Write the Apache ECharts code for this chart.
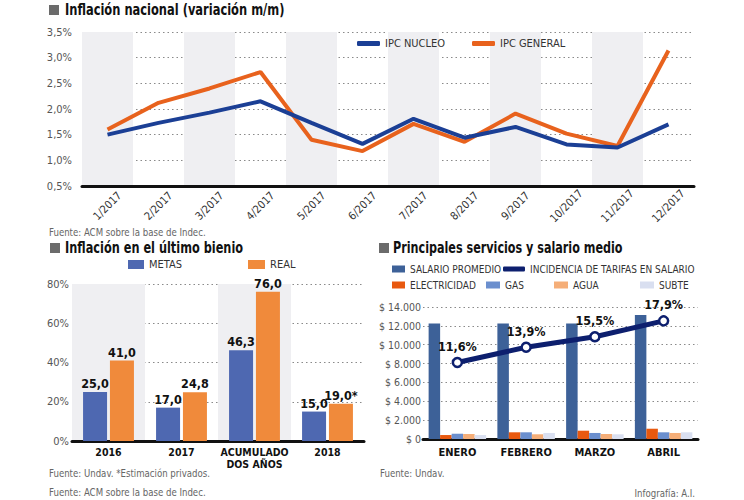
<!DOCTYPE html>
<html>
<head>
<meta charset="utf-8">
<script src="https://cdn.jsdelivr.net/npm/echarts@6/dist/echarts.min.js"></script>
<style>
html,body{margin:0;padding:0;background:#fff;}
#c{width:744px;height:500px;}
</style>
</head>
<body>
<div id="c"></div>
<script>
// ---- Data ----
const ipcMonths = ['1/2017','2/2017','3/2017','4/2017','5/2017','6/2017','7/2017','8/2017','9/2017','10/2017','11/2017','12/2017'];
const ipcNucleo = [1.5, 1.73, 1.93, 2.15, 1.73, 1.32, 1.81, 1.44, 1.65, 1.31, 1.25, 1.70];
const ipcGeneral = [1.6, 2.12, 2.4, 2.72, 1.4, 1.18, 1.71, 1.36, 1.91, 1.52, 1.28, 3.14];
const ipcTicks = [0.5, 3.5, 0.5]; // min, max, interval

const bienioCats = ['2016', '2017', 'ACUMULADO\nDOS AÑOS', '2018'];
const metas = [25.0, 17.0, 46.3, 15.0];
const real = [41.0, 24.8, 76.0, 19.0];
const realNotes = ['', '', '', '*'];

const servMonths = ['ENERO', 'FEBRERO', 'MARZO', 'ABRIL'];
const salario = [12250, 12250, 12250, 13150];
const electricidad = [420, 710, 880, 1090];
const gas = [560, 710, 640, 710];
const agua = [530, 500, 530, 640];
const subte = [420, 640, 500, 710];
const incidencia = [11.6, 13.9, 15.5, 17.9];

// ---- Styles ----
const FONT = "'DejaVu Sans Condensed','Liberation Sans',sans-serif";
const BAND = ['#efeff2', 'rgba(255,255,255,0)'];
const dotted = {show: true, lineStyle: {color: '#8a8a8a', type: [1.5, 3], width: 1.2}};
const comma = (v, d) => v.toFixed(d).replace('.', ',');
const thousands = v => String(v).replace(/\B(?=(\d{3})+(?!\d))/g, '.');

const chart = echarts.init(document.getElementById('c'), null, {renderer: 'svg'});

const legendText = {fontSize: 10, color: '#333', fontFamily: FONT};
function leg(name, left, top, w, h, icon, extra, fs) {
  const item = Object.assign({name: name, icon: icon}, extra || {});
  return {data: [item], left: left, top: top, itemWidth: w, itemHeight: h, padding: 0, itemGap: 0,
          textStyle: Object.assign({}, legendText, fs ? {fontSize: fs} : {}), selectedMode: false};
}
function txt(x, y, s, font, scale, align) {
  return {type: 'text', x: x, y: y, scaleX: scale,
          style: {x: 0, y: 0, text: s, font: font, fill: font.indexOf('bold') === 0 ? '#111' : '#666',
                  verticalAlign: 'middle', align: align || 'left'}};
}

const option = {
  animation: false,
  backgroundColor: '#fff',
  grid: [
    {left: 82, top: 32, width: 612, height: 154},
    {left: 72, top: 284, width: 292, height: 157},
    {left: 423, top: 307, width: 275, height: 132}
  ],
  xAxis: [
    {type: 'category', gridIndex: 0, data: ipcMonths, boundaryGap: true,
     axisLine: {lineStyle: {color: '#111', width: 3}}, axisTick: {show: false},
     splitArea: {show: true, areaStyle: {color: BAND}},
     axisLabel: {rotate: 45, align: 'center', margin: 20, fontSize: 11, color: '#333', fontFamily: FONT, interval: 0}},
    {type: 'category', gridIndex: 1, data: bienioCats, boundaryGap: true,
     axisLine: {lineStyle: {color: '#111', width: 3}}, axisTick: {show: false},
     splitArea: {show: true, areaStyle: {color: BAND}},
     axisLabel: {margin: 5, fontSize: 10.5, fontWeight: 'bold', color: '#111', fontFamily: FONT, lineHeight: 12, interval: 0}},
    {type: 'category', gridIndex: 2, data: servMonths, boundaryGap: true,
     axisLine: {lineStyle: {color: '#111', width: 3}}, axisTick: {show: false},
     axisLabel: {margin: 8, fontSize: 11, fontWeight: 'bold', color: '#111', fontFamily: FONT, interval: 0}}
  ],
  yAxis: [
    {type: 'value', gridIndex: 0, min: ipcTicks[0], max: ipcTicks[1], interval: ipcTicks[2],
     splitLine: dotted, axisLine: {show: false}, axisTick: {show: false},
     axisLabel: {formatter: v => comma(v, 1) + '%', fontSize: 11, color: '#555', fontFamily: FONT, margin: 10}},
    {type: 'value', gridIndex: 1, min: 0, max: 80, interval: 20,
     splitLine: dotted, axisLine: {show: false}, axisTick: {show: false},
     axisLabel: {formatter: v => v + '%', fontSize: 11, color: '#555', fontFamily: FONT, margin: 3}},
    {type: 'value', gridIndex: 2, min: 0, max: 14000, interval: 2000,
     splitLine: dotted, axisLine: {show: false}, axisTick: {show: false},
     axisLabel: {formatter: v => '$ ' + thousands(v), fontSize: 10.5, color: '#555', fontFamily: FONT, margin: 2}},
    {type: 'value', gridIndex: 2, min: 0, max: 20, show: false, splitLine: {show: false}}
  ],
  legend: [
    leg('IPC NUCLEO', 357, 38, 23, 5, 'roundRect', null, 11),
    leg('IPC GENERAL', 472, 38, 23, 5, 'roundRect', null, 11),
    leg('METAS', 128, 259, 16, 9, 'rect', null, 11),
    leg('REAL', 248, 259, 17, 9, 'rect', null, 11),
    leg('SALARIO PROMEDIO', 392, 264, 13, 7, 'rect'),
    leg('INCIDENCIA DE TARIFAS EN SALARIO', 503, 264, 22, 5, 'roundRect', {itemStyle: {color: '#0d1f6e', borderWidth: 0}}),
    leg('ELECTRICIDAD', 392, 280, 13, 7, 'rect'),
    leg('GAS', 486, 280, 14, 7, 'rect'),
    leg('AGUA', 554, 280, 14, 7, 'rect'),
    leg('SUBTE', 640, 280, 14, 7, 'rect')
  ],
  series: [
    {name: 'IPC GENERAL', type: 'line', xAxisIndex: 0, yAxisIndex: 0, data: ipcGeneral,
     showSymbol: false, symbol: 'none', color: '#e8621d', lineStyle: {width: 4, color: '#e8621d'}},
    {name: 'IPC NUCLEO', type: 'line', xAxisIndex: 0, yAxisIndex: 0, data: ipcNucleo,
     showSymbol: false, symbol: 'none', color: '#1b3f95', lineStyle: {width: 4, color: '#1b3f95'}},

    {name: 'METAS', type: 'bar', xAxisIndex: 1, yAxisIndex: 1, data: metas, color: '#4e68b1',
     barWidth: 24, barGap: '12%',
     label: {show: true, position: 'top', distance: 2, formatter: p => comma(p.value, 1),
             fontSize: 12.5, fontWeight: 'bold', color: '#111', fontFamily: FONT}},
    {name: 'REAL', type: 'bar', xAxisIndex: 1, yAxisIndex: 1, data: real, color: '#f08a3b',
     barWidth: 24, barGap: '12%',
     label: {show: true, position: 'top', distance: 2, formatter: p => comma(p.value, 1) + realNotes[p.dataIndex],
             fontSize: 12.5, fontWeight: 'bold', color: '#111', fontFamily: FONT}},

    {name: 'SALARIO PROMEDIO', type: 'bar', xAxisIndex: 2, yAxisIndex: 2, data: salario, color: '#3d6198', barWidth: 11.5, barGap: '0%'},
    {name: 'ELECTRICIDAD', type: 'bar', xAxisIndex: 2, yAxisIndex: 2, data: electricidad, color: '#e8590f', barWidth: 11.5, barGap: '0%'},
    {name: 'GAS', type: 'bar', xAxisIndex: 2, yAxisIndex: 2, data: gas, color: '#6b8fce', barWidth: 11.5, barGap: '0%'},
    {name: 'AGUA', type: 'bar', xAxisIndex: 2, yAxisIndex: 2, data: agua, color: '#f5ae78', barWidth: 11.5, barGap: '0%'},
    {name: 'SUBTE', type: 'bar', xAxisIndex: 2, yAxisIndex: 2, data: subte, color: '#d9dff0', barWidth: 11.5, barGap: '0%'},
    {name: 'INCIDENCIA DE TARIFAS EN SALARIO', type: 'line', xAxisIndex: 2, yAxisIndex: 3, data: incidencia,
     color: '#0d1f6e', lineStyle: {width: 5, color: '#0d1f6e'}, z: 5,
     symbol: 'circle', symbolSize: 9, itemStyle: {color: '#fff', borderColor: '#0d1f6e', borderWidth: 2.5},
     label: {show: true, position: 'top', distance: 4, formatter: p => comma(p.value, 1) + '%',
             fontSize: 12.5, fontWeight: 'bold', color: '#111', fontFamily: FONT}}
  ],
  graphic: [
    {type: 'rect', shape: {x: 49, y: 5, width: 10, height: 10}, style: {fill: '#6b6b6b'}},
    txt(65, 10, 'Inflación nacional (variación m/m)', 'bold 15px ' + FONT, 0.85),
    txt(49, 232, 'Fuente: ACM sobre la base de Indec.', '11px ' + FONT, 0.87),

    {type: 'rect', shape: {x: 50, y: 243, width: 10, height: 10}, style: {fill: '#6b6b6b'}},
    txt(65, 248, 'Inflación en el último bienio', 'bold 15px ' + FONT, 0.84),
    txt(49, 473, 'Fuente: Undav. *Estimación privados.', '11px ' + FONT, 0.87),
    txt(49, 492, 'Fuente: ACM sobre la base de Indec.', '11px ' + FONT, 0.87),

    {type: 'rect', shape: {x: 379, y: 243, width: 10, height: 10}, style: {fill: '#6b6b6b'}},
    txt(393, 248, 'Principales servicios y salario medio', 'bold 15px ' + FONT, 0.83),
    txt(380, 473, 'Fuente: Undav.', '11px ' + FONT, 0.87),
    txt(695, 493, 'Infografía: A.I.', '11px ' + FONT, 0.87, 'right')
  ]
};
chart.setOption(option);
</script>
</body>
</html>
